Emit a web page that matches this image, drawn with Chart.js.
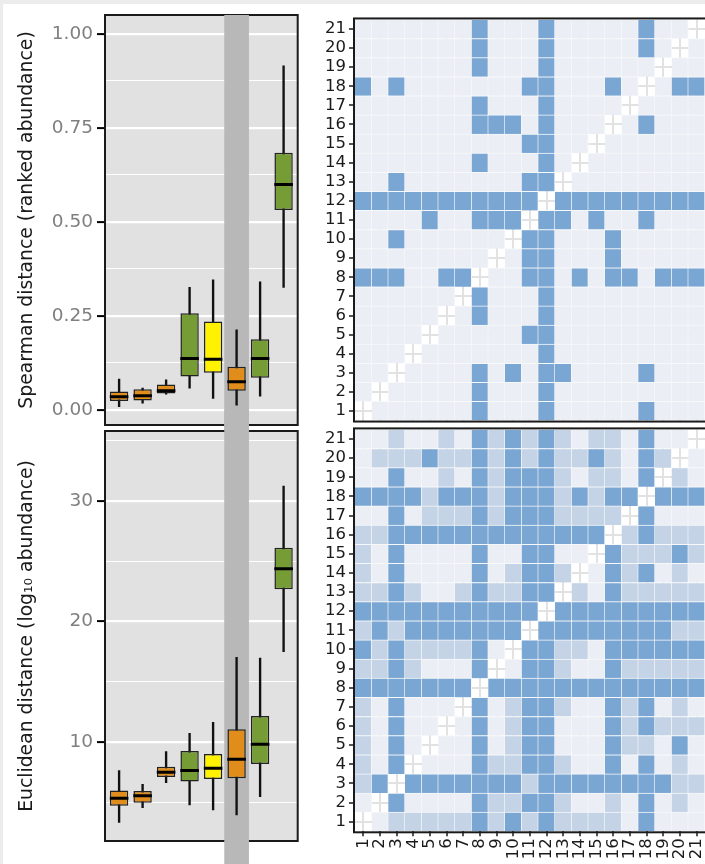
<!DOCTYPE html>
<html>
<head>
<meta charset="utf-8">
<title>Distances</title>
<script src="https://cdn.jsdelivr.net/npm/chart.js@4.4.0/dist/chart.umd.min.js"></script>
<style>
  html, body { margin: 0; padding: 0; width: 705px; height: 864px; overflow: hidden; background: #ececec; }
  #page { position: absolute; left: 3px; top: 4px; right: 0; bottom: 0; background: #fff; }
  canvas { position: absolute; }
</style>
</head>
<body>
<div id="page"></div>
<canvas id="spearBox" width="310" height="450" style="left:0;top:0"></canvas>
<canvas id="euclBox" width="310" height="454" style="left:0;top:410px"></canvas>
<canvas id="spearHeat" width="400" height="445" style="left:310px;top:0"></canvas>
<canvas id="euclHeat" width="400" height="459" style="left:310px;top:405px"></canvas>
<script>
// box plot summaries, one value per group
var groups = [1, 2, 3, 4, 5, 6, 7, 8];
var highlightGroup = 6;

var spearLow  = [0.009, 0.018, 0.042, 0.058, 0.031, 0.013, 0.037, 0.326];
var spearQ1   = [0.024, 0.025, 0.044, 0.089, 0.099, 0.051, 0.086, 0.532];
var spearMed  = [0.035, 0.038, 0.051, 0.137, 0.135, 0.075, 0.137, 0.600];
var spearQ3   = [0.049, 0.055, 0.068, 0.257, 0.235, 0.115, 0.188, 0.684];
var spearHigh = [0.082, 0.058, 0.080, 0.326, 0.346, 0.213, 0.341, 0.915];

var euclLow  = [3.33, 4.55, 6.62, 4.77, 4.36, 3.94, 5.46, 17.49];
var euclQ1   = [4.71, 4.96, 7.10, 6.71, 6.93, 6.99, 8.17, 22.67];
var euclMed  = [5.33, 5.54, 7.48, 7.62, 7.82, 8.56, 9.81, 24.36];
var euclQ3   = [5.96, 5.93, 7.95, 9.25, 9.00, 11.05, 12.16, 26.12];
var euclHigh = [7.62, 6.49, 9.20, 10.72, 11.63, 17.03, 16.95, 31.24];

var spearMajor = [0, 0.25, 0.5, 0.75, 1];
var spearMinor = [0.125, 0.375, 0.625, 0.875];
var euclMajor = [10, 20, 30];
var euclMinor = [5, 15, 25, 35];

// pairwise comparison matrices, rows 1..21, columns 1..21 (n = diagonal)
var n = null;
var rowLabels = [1, 2, 3, 4, 5, 6, 7, 8, 9, 10, 11, 12, 13, 14, 15, 16, 17, 18, 19, 20, 21];
var colLabels = ['1', '2', '3', '4', '5', '6', '7', '8', '9', '10', '11', '12', '13', '14', '15', '16', '17', '18', '19', '20', '21'];

// spearman: 0 = not different, 1 = different
var spearSig = [
  [n,0,0,0,0,0,0,1,0,0,0,1,0,0,0,0,0,1,0,0,0],
  [0,n,0,0,0,0,0,1,0,0,0,1,0,0,0,0,0,0,0,0,0],
  [0,0,n,0,0,0,0,1,0,1,0,1,1,0,0,0,0,1,0,0,0],
  [0,0,0,n,0,0,0,0,0,0,0,1,0,0,0,0,0,0,0,0,0],
  [0,0,0,0,n,0,0,0,0,0,1,1,0,0,0,0,0,0,0,0,0],
  [0,0,0,0,0,n,0,1,0,0,0,1,0,0,0,0,0,0,0,0,0],
  [0,0,0,0,0,0,n,1,0,0,0,1,0,0,0,0,0,0,0,0,0],
  [1,1,1,0,0,1,1,n,0,0,1,1,0,1,0,1,1,0,1,1,1],
  [0,0,0,0,0,0,0,0,n,0,1,1,0,0,0,1,0,0,0,0,0],
  [0,0,1,0,0,0,0,0,0,n,1,1,0,0,0,1,0,0,0,0,0],
  [0,0,0,0,1,0,0,1,1,1,n,1,1,0,1,0,0,1,0,0,0],
  [1,1,1,1,1,1,1,1,1,1,1,n,1,1,1,1,1,1,1,1,1],
  [0,0,1,0,0,0,0,0,0,0,1,1,n,0,0,0,0,0,0,0,0],
  [0,0,0,0,0,0,0,1,0,0,0,1,0,n,0,0,0,0,0,0,0],
  [0,0,0,0,0,0,0,0,0,0,1,1,0,0,n,0,0,0,0,0,0],
  [0,0,0,0,0,0,0,1,1,1,0,1,0,0,0,n,0,1,0,0,0],
  [0,0,0,0,0,0,0,1,0,0,0,1,0,0,0,0,n,0,0,0,0],
  [1,0,1,0,0,0,0,0,0,0,1,1,0,0,0,1,0,n,0,1,1],
  [0,0,0,0,0,0,0,1,0,0,0,1,0,0,0,0,0,0,n,0,0],
  [0,0,0,0,0,0,0,1,0,0,0,1,0,0,0,0,0,1,0,n,0],
  [0,0,0,0,0,0,0,1,0,0,0,1,0,0,0,0,0,1,0,0,n]
];

// euclidean: 0 = low, 1 = medium, 2 = high
var euclSig = [
  [n,0,1,1,1,1,1,2,1,2,1,2,1,1,1,1,0,2,0,0,0],
  [0,n,2,0,0,0,0,2,1,1,2,2,1,0,0,1,0,2,0,1,0],
  [1,2,n,2,2,2,2,2,2,2,1,2,2,2,2,2,2,2,2,1,1],
  [1,0,2,n,0,0,0,2,1,1,2,2,1,0,0,2,0,2,0,1,0],
  [1,0,2,0,n,0,0,2,0,1,2,2,0,0,0,2,1,1,0,2,0],
  [1,0,2,0,0,n,0,2,0,1,2,2,0,0,0,2,1,2,1,1,1],
  [1,0,2,0,0,0,n,2,0,1,2,2,1,0,0,2,1,2,0,1,0],
  [2,2,2,2,2,2,2,n,2,2,2,2,2,2,2,2,2,2,2,2,2],
  [1,1,2,1,0,0,0,2,n,0,2,2,1,0,0,2,1,1,1,1,1],
  [2,1,2,1,1,1,1,2,0,n,2,2,1,1,0,2,2,2,2,2,2],
  [1,2,1,2,2,2,2,2,2,2,n,2,2,2,2,2,2,2,2,1,1],
  [2,2,2,2,2,2,2,2,2,2,2,n,2,2,2,2,2,2,2,2,2],
  [1,1,2,1,0,0,1,2,1,1,2,2,n,1,0,2,1,1,1,1,1],
  [1,0,2,0,0,0,0,2,0,1,2,2,1,n,0,2,1,2,0,1,0],
  [1,0,2,0,0,0,0,2,0,0,2,2,0,0,n,2,1,1,1,2,1],
  [1,1,2,2,2,2,2,2,2,2,2,2,2,2,2,n,1,2,1,1,1],
  [0,0,2,0,1,1,1,2,1,2,2,2,1,1,1,1,n,2,0,0,0],
  [2,2,2,2,1,2,2,2,1,2,2,2,1,2,1,2,2,n,2,2,2],
  [0,0,2,0,0,1,0,2,1,2,2,2,1,0,1,1,0,2,n,1,0],
  [0,1,1,1,2,1,1,2,1,2,1,2,1,1,2,1,0,2,1,n,0],
  [0,0,1,0,0,1,0,2,1,2,1,2,1,0,1,1,0,2,0,0,n]
];

var groupFill = ['#e08d1c', '#e08d1c', '#e08d1c', '#769d35', '#fff200', '#e08d1c', '#769d35', '#769d35'];
var twoBlues = ['#ebeff5', '#7aa6d3'];
var threeBlues = ['#ebeff5', '#c4d3e5', '#7aa6d3'];

Chart.defaults.font.family = "'DejaVu Sans', sans-serif";
Chart.defaults.animation = false;
Chart.defaults.plugins.legend.display = false;
Chart.defaults.plugins.tooltip.enabled = false;

// fixed axis size, and no extra padding from the labels
function fixAxis(w, h) {
  return function (s) {
    if (w !== null) s.width = w;
    if (h !== null) s.height = h;
    s.paddingTop = 0; s.paddingBottom = 0; s.paddingLeft = 0; s.paddingRight = 0;
  };
}

// grey panel background + black frame
function panelPlugin(fill, frameOnTop, outset) {
  function frame(chart) {
    var a = chart.chartArea, c = chart.ctx;
    c.save();
    c.strokeStyle = '#1a1a1a';
    c.lineWidth = 2;
    c.strokeRect(a.left - outset, a.top - outset, a.right - a.left + 2 * outset, a.bottom - a.top + 2 * outset);
    c.restore();
  }
  return {
    id: 'panel',
    beforeDraw: function (chart) {
      if (!fill) return;
      var a = chart.chartArea, c = chart.ctx;
      c.save();
      c.fillStyle = fill;
      c.fillRect(a.left, a.top, a.right - a.left, a.bottom - a.top);
      c.restore();
    },
    beforeDatasetsDraw: function (chart) { if (!frameOnTop) frame(chart); },
    afterDatasetsDraw: function (chart) { if (frameOnTop) frame(chart); }
  };
}

function boxChart(id, low, q1, med, q3, high, yMin, yMax, major, minor, fmt, title, pad, band) {
  var ticks = major.concat(minor).sort(function (a, b) { return a - b; });
  var isMajor = function (ctx) { return ctx.tick && major.indexOf(ctx.tick.value) >= 0; };

  return new Chart(document.getElementById(id), {
    type: 'bar',
    data: {
      datasets: [
        {
          // highlighted column, runs past the panel
          data: [{ x: highlightGroup, y: band }],
          backgroundColor: '#b8b8b8',
          categoryPercentage: 1, barPercentage: 1.05,
          grouped: false, clip: false, order: 4
        },
        {
          data: groups.map(function (g, i) { return { x: g, y: [low[i], high[i]] }; }),
          backgroundColor: '#111111',
          barThickness: 1.7, grouped: false, order: 3
        },
        {
          data: groups.map(function (g, i) { return { x: g, y: [q1[i], q3[i]] }; }),
          backgroundColor: groupFill,
          borderColor: '#222222', borderWidth: 1.5, borderSkipped: false,
          categoryPercentage: 1, barPercentage: 0.78,
          grouped: false, order: 2
        },
        {
          type: 'scatter',
          data: groups.map(function (g, i) { return { x: g, y: med[i] }; }),
          pointStyle: 'line', pointRadius: 9.3, pointHoverRadius: 9.3,
          borderColor: '#000', borderWidth: 3, order: 1
        }
      ]
    },
    options: {
      responsive: false,
      layout: { padding: pad },
      scales: {
        x: {
          type: 'linear', min: 0.4, max: 8.6, offset: false, display: false,
          afterBuildTicks: function (s) { s.ticks = groups.map(function (g) { return { value: g }; }); }
        },
        y: {
          min: yMin, max: yMax,
          afterBuildTicks: function (s) { s.ticks = ticks.map(function (v) { return { value: v }; }); },
          afterFit: fixAxis(105, null),
          border: { display: false },
          grid: {
            color: '#ffffff',
            lineWidth: function (ctx) { return isMajor(ctx) ? 2.2 : 1.1; },
            tickColor: function (ctx) { return isMajor(ctx) ? '#000' : 'rgba(0,0,0,0)'; },
            tickLength: 8, tickWidth: 2
          },
          ticks: {
            autoSkip: false, padding: 4, color: '#7f7f7f',
            font: { size: 18.5 },
            callback: function (v) { return major.indexOf(v) >= 0 ? fmt(v) : ''; }
          },
          title: {
            display: true, text: title, color: '#1a1a1a',
            font: { size: 18.8 }, padding: { top: 15.5, bottom: 0 }
          }
        }
      }
    },
    plugins: [panelPlugin('#e1e1e1', false, 0)]
  });
}

function heatChart(id, matrix, palette, showX, pad, xHeight) {
  var datasets = rowLabels.map(function (r, ri) {
    return {
      data: matrix[ri].map(function (v) { return v === null ? null : [r - 0.5, r + 0.5]; }),
      backgroundColor: matrix[ri].map(function (v) { return v === null ? 'rgba(0,0,0,0)' : palette[v]; }),
      borderColor: '#f6f8fa',
      borderWidth: { top: 1, right: 1, bottom: 0, left: 0 },
      borderSkipped: false,
      categoryPercentage: 1, barPercentage: 1, grouped: false
    };
  });

  return new Chart(document.getElementById(id), {
    type: 'bar',
    data: { labels: colLabels, datasets: datasets },
    options: {
      responsive: false,
      layout: { padding: pad },
      scales: {
        x: {
          type: 'category', offset: true,
          afterFit: fixAxis(null, xHeight),
          border: { display: false },
          grid: {
            offset: false, color: '#e2e2e2', lineWidth: 2,
            drawTicks: showX, tickColor: '#1a1a1a', tickLength: 5, tickWidth: 1.5
          },
          ticks: {
            display: showX, autoSkip: false, minRotation: 90, maxRotation: 90,
            padding: 2, color: '#1a1a1a', font: { size: 16.5 }
          }
        },
        y: {
          type: 'linear', min: 0.5, max: 21.5,
          afterBuildTicks: function (s) { s.ticks = rowLabels.map(function (v) { return { value: v }; }); },
          afterFit: fixAxis(45, null),
          border: { display: false },
          grid: { color: '#e2e2e2', lineWidth: 2, tickColor: '#1a1a1a', tickLength: 6, tickWidth: 1.5 },
          ticks: {
            autoSkip: false, padding: 3, color: '#1a1a1a', font: { size: 16.5 },
            callback: function (v) { return String(v); }
          }
        }
      }
    },
    plugins: [panelPlugin(null, true, 1)]
  });
}

//left column: box plots
boxChart('spearBox', spearLow, spearQ1, spearMed, spearQ3, spearHigh,
  -0.04, 1.0505, spearMajor, spearMinor,
  function (v) { return v.toFixed(2); },
  'Spearman distance (ranked abundance)',
  { left: 0, right: 9, top: 15, bottom: 25 }, [-1, 1.0505]);

boxChart('euclBox', euclLow, euclQ1, euclMed, euclQ3, euclHigh,
  1.78, 35.8, euclMajor, euclMinor,
  function (v) { return String(v); },
  'Euclidean distance (log\u2081\u2080 abundance)',
  { left: 0, right: 9, top: 21, bottom: 23 }, [-30, 70]);

//right column: pairwise heatmaps
heatChart('spearHeat', spearSig, twoBlues, false, { left: 0, right: 5, top: 19.45, bottom: 24.45 }, 0);
heatChart('euclHeat', euclSig, threeBlues, true, { left: 0, right: 5, top: 24.4, bottom: 0 }, 32.7);
</script>
</body>
</html>
